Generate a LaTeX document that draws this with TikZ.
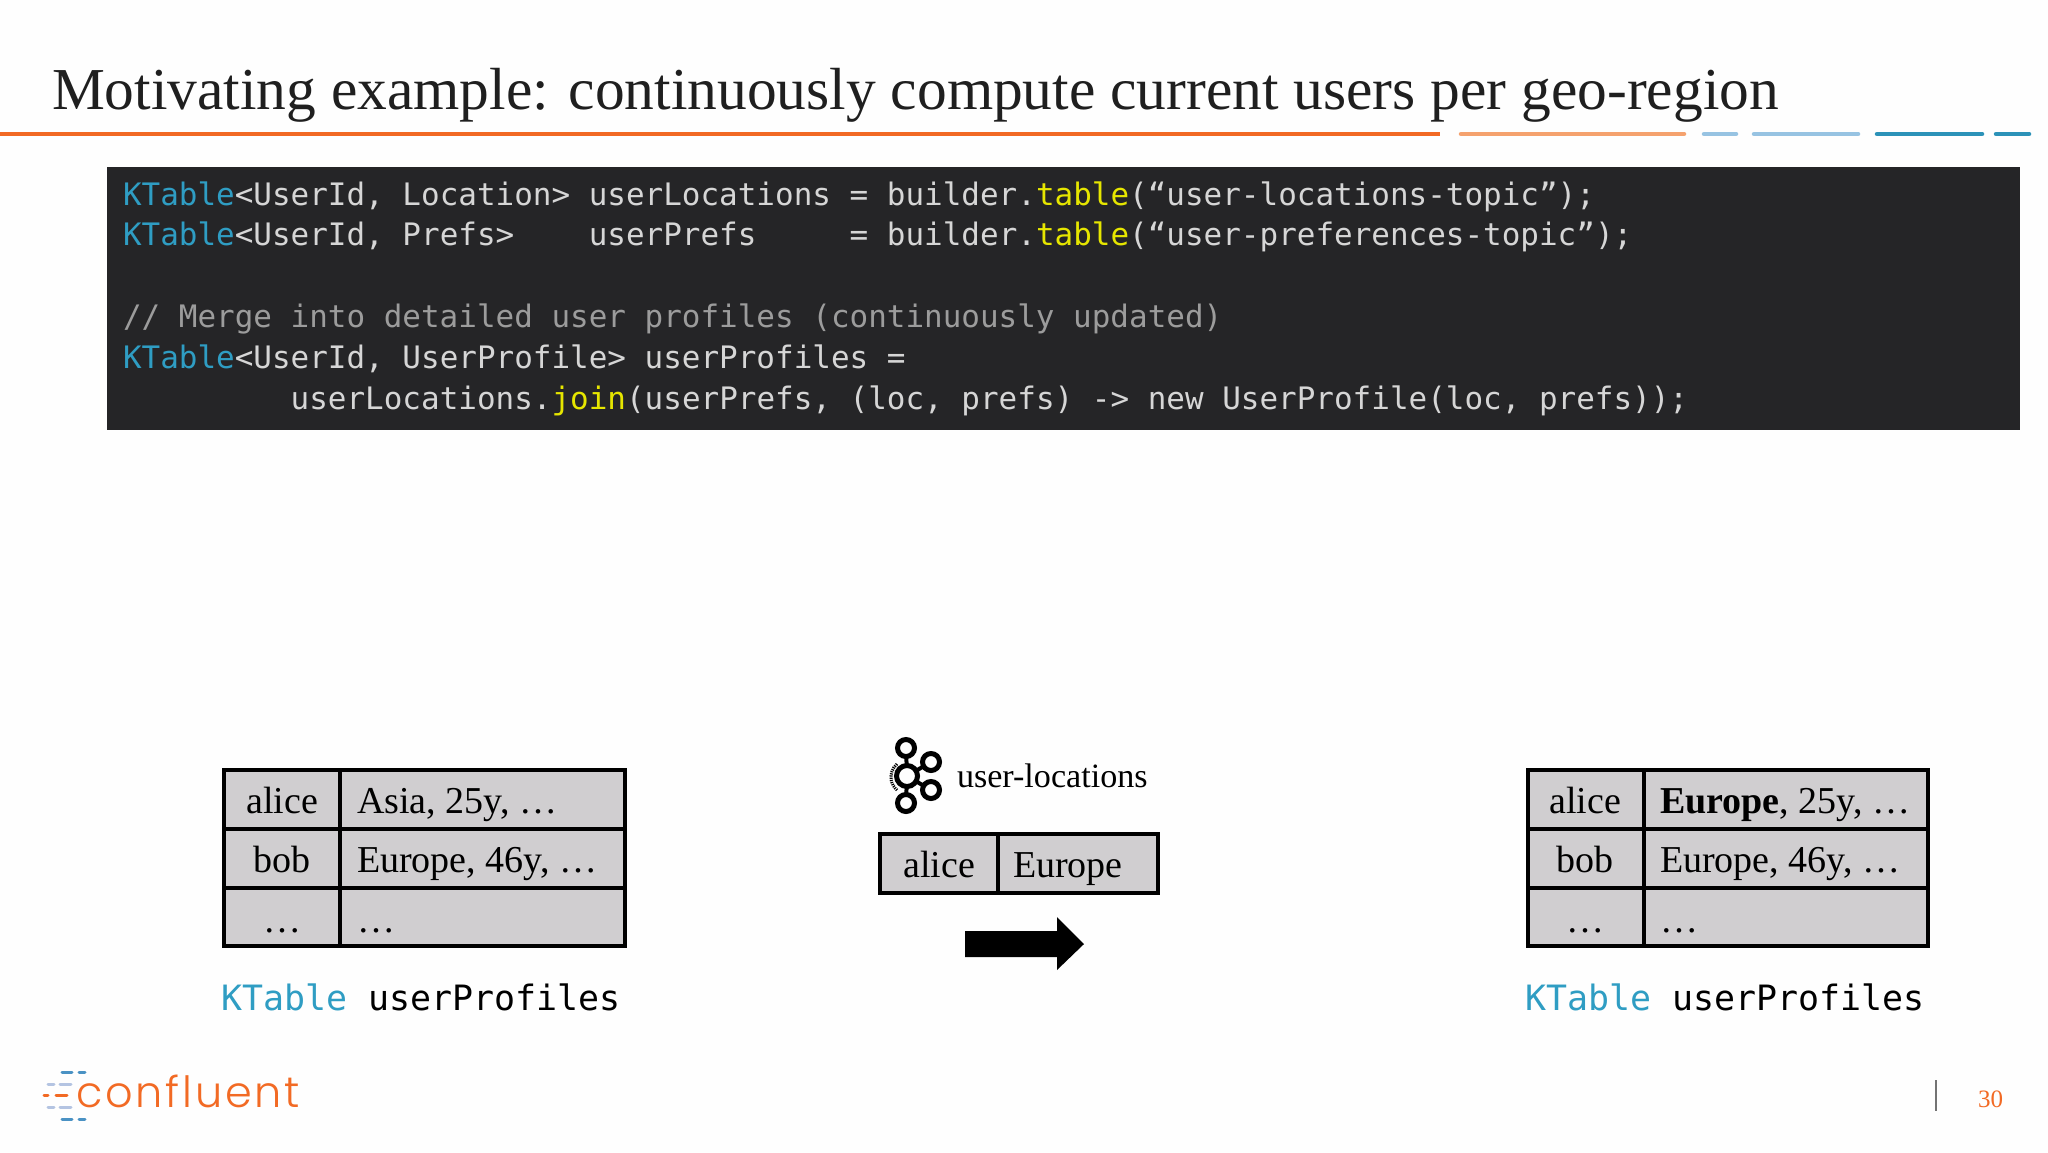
\documentclass[tikz,border=0pt]{standalone}
\usepackage{fontspec}
\setmainfont{Liberation Serif}
\newfontfamily\codefont{DejaVu Sans Mono}
\newfontfamily\logofont[LetterSpace=6.6]{Poppins Light}
\definecolor{bgc}{HTML}{FEFEFE}
\definecolor{codebg}{HTML}{252527}
\definecolor{codefg}{HTML}{D6D6D6}
\definecolor{codecm}{HTML}{9C9C9C}
\definecolor{kblue}{HTML}{2F9DC3}
\definecolor{kyellow}{HTML}{E6E600}
\definecolor{cellgray}{HTML}{D0CED0}
\definecolor{ruleorange}{HTML}{F26A24}
\definecolor{rulepeach}{HTML}{F5A26E}
\definecolor{rulelight}{HTML}{97C3E2}
\definecolor{ruleblue}{HTML}{2C92B8}
\definecolor{dashlight}{HTML}{B4C4E2}
\definecolor{dashblue}{HTML}{4A92C4}
\newcommand{\kw}[1]{\textcolor{kblue}{#1}}
\newcommand{\fn}[1]{\textcolor{kyellow}{#1}}
\tikzset{
 txt/.style={inner sep=0pt,outer sep=0pt,anchor=base west},
 codeline/.style={txt,text=codefg,font=\codefont\fontsize{30.95}{36}\selectfont},
 label/.style={txt,text=black,font=\codefont\fontsize{34.9}{40}\selectfont},
 cell/.style={draw=black,line width=4pt,fill=cellgray,anchor=north west,inner sep=0pt,outer sep=0pt},
 tabc/.style={inner sep=0pt,outer sep=0pt,anchor=base,text=black,font=\fontsize{38}{44}\selectfont},
 tabl/.style={inner sep=0pt,outer sep=0pt,anchor=base west,text=black,font=\fontsize{38}{44}\selectfont},
 hrule/.style={line width=4.5pt,line cap=round},
 logodash/.style={line width=3pt,line cap=round},
 kring/.style={circle,draw=black,line width=5pt,fill=none,inner sep=0pt,outer sep=0pt},
 kspoke/.style={draw=black,line width=4pt},
}
\begin{document}
\begin{tikzpicture}[x=1pt,y=-1pt]
\useasboundingbox (0,0) rectangle (2048,1152);
\fill[bgc] (0,0) rectangle (2048,1152);
% title
\node[txt,text=black!88,font=\fontsize{59.45}{66}\selectfont] (title) at (52,109) {Motivating example: continuously compute current users per geo-region};
% rule
\draw[hrule,ruleorange,line cap=butt] (0,134) -- (1440,134);
\draw[hrule,rulepeach] (1461,134) -- (1684,134);
\draw[hrule,rulelight] (1704,134) -- (1736,134);
\draw[hrule,rulelight] (1754,134) -- (1858,134);
\draw[hrule,ruleblue] (1877,134) -- (1982,134);
\draw[hrule,ruleblue] (1996,134) -- (2029,134);
% code
\fill[codebg] (107,167) rectangle (2020,430);
\node[codeline] (c1) at (123,205) {\kw{KTable}<UserId, Location> userLocations = builder.\fn{table}(“user-locations-topic”);};
\node[codeline] (c2) at (123,245) {\kw{KTable}<UserId, Prefs>~~~~userPrefs~~~~~= builder.\fn{table}(“user-preferences-topic”);};
\node[codeline,text=codecm] (c3) at (123,327) {// Merge into detailed user profiles (continuously updated)};
\node[codeline] (c4) at (123,368) {\kw{KTable}<UserId, UserProfile> userProfiles =};
\node[codeline] (c5) at (123,409) {~~~~~~~~~userLocations.\fn{join}(userPrefs, (loc, prefs) -> new UserProfile(loc, prefs));};
% left table
\node[cell,minimum width=116pt,minimum height=59pt] (la) at (224,770) {};
\node[cell,minimum width=285pt,minimum height=59pt] (lb) at (340,770) {};
\node[cell,minimum width=116pt,minimum height=59pt] (lc) at (224,829) {};
\node[cell,minimum width=285pt,minimum height=59pt] (ld) at (340,829) {};
\node[cell,minimum width=116pt,minimum height=58pt] (le) at (224,888) {};
\node[cell,minimum width=285pt,minimum height=58pt] (lf) at (340,888) {};
\node[tabc] (t1) at (282,813) {alice};
\node[tabl] (t2) at (357,813) {Asia, 25y, …};
\node[tabc] (t3) at (282,872) {bob};
\node[tabl] (t4) at (357,872) {Europe, 46y, …};
\node[tabc] (t5) at (282,932) {…};
\node[tabl] (t6) at (357,932) {…};
\node[label] (lcap) at (221,1010) {\kw{KTable} userProfiles};
% right table
\node[cell,minimum width=116pt,minimum height=59pt] (ra) at (1528,770) {};
\node[cell,minimum width=284pt,minimum height=59pt] (rb) at (1644,770) {};
\node[cell,minimum width=116pt,minimum height=59pt] (rc) at (1528,829) {};
\node[cell,minimum width=284pt,minimum height=59pt] (rd) at (1644,829) {};
\node[cell,minimum width=116pt,minimum height=58pt] (re) at (1528,888) {};
\node[cell,minimum width=284pt,minimum height=58pt] (rf) at (1644,888) {};
\node[tabc] (u1) at (1585,813) {alice};
\node[tabl] (u2) at (1660,813) {\textbf{Europe}, 25y, …};
\node[tabc] (u3) at (1585,872) {bob};
\node[tabl] (u4) at (1660,872) {Europe, 46y, …};
\node[tabc] (u5) at (1585,932) {…};
\node[tabl] (u6) at (1660,932) {…};
\node[label] (rcap) at (1525,1010) {\kw{KTable} userProfiles};
% centre record
\node[cell,minimum width=118pt,minimum height=59pt] (ma) at (880,834) {};
\node[cell,minimum width=160pt,minimum height=59pt] (mb) at (998,834) {};
\node[tabc] (m1) at (939,877) {alice};
\node[tabl] (m2) at (1013,877) {Europe};
\node[txt,text=black,font=\fontsize{34.1}{40}\selectfont] (topic) at (957,787) {user-locations};
% kafka icon
\node[kring,minimum size=21pt] (k0) at (907,776) {};
\node[kring,minimum size=17pt] (k1) at (906,748) {};
\node[kring,minimum size=17pt] (k2) at (906,803) {};
\node[kring,minimum size=17pt] (k3) at (931,762) {};
\node[kring,minimum size=17pt] (k4) at (931,790) {};
\draw[kspoke] (k0) -- (k1);
\draw[kspoke] (k0) -- (k2);
\draw[kspoke] (k0) -- (k3);
\draw[kspoke] (k0) -- (k4);
\draw[black,line width=3pt,dash pattern=on 1.2pt off 1pt] (897,764) arc[start angle=130,end angle=230,radius=17pt];
% arrow
\fill[black] (965,931) -- (1057,931) -- (1057,917) -- (1084,944) -- (1057,970) -- (1057,957) -- (965,957) -- cycle;
% logo
\node[txt,text=ruleorange,font=\logofont\fontsize{43}{48}\selectfont] (logo) at (76,1107) {confluent};
\draw[logodash,dashblue] (62,1072) -- (72,1072);
\draw[logodash,dashblue] (79,1072) -- (85,1072);
\draw[logodash,dashlight] (48,1084) -- (54,1084);
\draw[logodash,dashlight] (60,1084) -- (71,1084);
\draw[logodash,ruleorange] (44,1095) -- (48,1095);
\draw[logodash,ruleorange] (56,1095) -- (67,1095);
\draw[logodash,dashlight] (48,1107) -- (54,1107);
\draw[logodash,dashlight] (60,1107) -- (71,1107);
\draw[logodash,dashblue] (62,1119) -- (72,1119);
\draw[logodash,dashblue] (79,1119) -- (85,1119);
% footer
\draw[black!55,line width=2pt] (1936,1080) -- (1936,1111);
\node[txt,text=ruleorange,font=\fontsize{25}{30}\selectfont] (page) at (1978,1107) {30};
\end{tikzpicture}
\end{document}
